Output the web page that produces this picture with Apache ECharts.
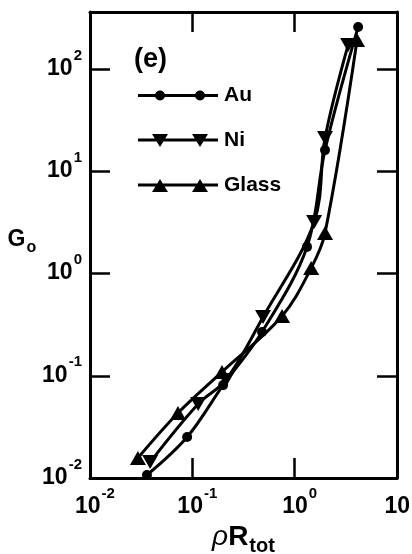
<!DOCTYPE html>
<html>
<head>
<meta charset="utf-8">
<script src="https://cdn.jsdelivr.net/npm/echarts@6/dist/echarts.min.js"></script>
<style>
  html, body { margin: 0; padding: 0; background: #fff; }
  #chart { width: 412px; height: 554px; }
</style>
</head>
<body>
<div id="chart"></div>
<script>
// Normalised conductance G0 against total areal density (rho R_tot), panel (e)
const auX = [0.036, 0.089, 0.20, 0.48, 1.32, 1.98, 4.17];
const auY = [0.0107, 0.0252, 0.081, 0.268, 1.82, 16.1, 258];
const niX = [0.0387, 0.114, 0.213, 0.491, 1.55, 1.98, 3.33];
const niY = [0.0143, 0.053, 0.091, 0.376, 3.19, 21.1, 172];
const glassX = [0.0294, 0.0724, 0.195, 0.753, 1.45, 1.98, 4.07];
const glassY = [0.0157, 0.0432, 0.109, 0.384, 1.13, 2.49, 192];

const seriesNames = ['Au', 'Ni', 'Glass'];
const panelTag = '(e)';
const xRange = [0.01, 10];
const yRange = [0.01, 361];

const FONT = '"Liberation Sans", Arial, sans-serif';

function pairs(xs, ys) { return xs.map((x, i) => [x, ys[i]]); }

function powerLabel(v) {
  const e = Math.round(Math.log10(v));
  return '{b|10}{s|' + e + '}';
}

const richPow = {
  b: { fontSize: 23, fontWeight: 'bold', fontFamily: FONT, color: '#000', lineHeight: 30, verticalAlign: 'bottom' },
  s: { fontSize: 15, fontWeight: 'bold', fontFamily: FONT, color: '#000', lineHeight: 15, padding: [0, 0, 17, 1], verticalAlign: 'bottom' }
};

// legend glyphs: a line with two markers, all sub-paths wound the same way
const iconAu = 'path://M0,6.5H80V9.5H0Z M17,8 A5,5 0 1,1 27,8 A5,5 0 1,1 17,8Z M57,8 A5,5 0 1,1 67,8 A5,5 0 1,1 57,8Z';
const iconNi = 'path://M0,6.5H80V9.5H0Z M14,2L30,2L22,15Z M54,2L70,2L62,15Z';
const iconGlass = 'path://M0,6.5H80V9.5H0Z M22,2L30,15L14,15Z M62,2L70,15L54,15Z';

const frameLine = { show: true, onZero: false, lineStyle: { color: '#000', width: 3 } };
const innerTick = { show: true, inside: true, length: 20, lineStyle: { color: '#000', width: 2.5 } };

const chart = echarts.init(document.getElementById('chart'), null, { renderer: 'canvas' });

const baseLine = { color: '#000', width: 3 };

chart.setOption({
  backgroundColor: '#fff',
  animation: false,
  title: {
    text: panelTag,
    left: 129, top: 41,
    textStyle: { fontSize: 27, fontWeight: 'bold', fontFamily: FONT, color: '#000' }
  },
  legend: {
    orient: 'vertical',
    left: 133, top: 80,
    itemWidth: 80, itemHeight: 16,
    itemGap: 24,
    textStyle: { fontSize: 21, fontWeight: 'bold', fontFamily: FONT, color: '#000', lineHeight: 20, padding: [0, 0, 0, 1] },
    data: [
      { name: seriesNames[0], icon: iconAu },
      { name: seriesNames[1], icon: iconNi },
      { name: seriesNames[2], icon: iconGlass }
    ]
  },
  grid: { left: 90, right: 15, top: 12, bottom: 76, containLabel: false, outerBoundsMode: 'none' },
  xAxis: [
    {
      type: 'log', logBase: 10, min: xRange[0], max: xRange[1], position: 'bottom',
      axisLine: frameLine, axisTick: innerTick, splitLine: { show: false }, minorTick: { show: false },
      axisLabel: { formatter: powerLabel, rich: richPow, margin: 10, padding: [0, 0, 0, 10], showMinLabel: true, showMaxLabel: true },
      name: '{r|ρ}{R|R}{t|tot}',
      nameLocation: 'middle', nameGap: 44,
      nameTextStyle: {
        padding: [0, 0, 0, 0],
        rich: {
          r: { fontSize: 28, fontStyle: 'italic', fontFamily: FONT, color: '#000', lineHeight: 30, verticalAlign: 'top' },
          R: { fontSize: 28, fontWeight: 'bold', fontFamily: FONT, color: '#000', lineHeight: 30, verticalAlign: 'top' },
          t: { fontSize: 20, fontWeight: 'bold', fontFamily: FONT, color: '#000', lineHeight: 20, padding: [14, 0, 0, 1], verticalAlign: 'top' }
        }
      }
    },
    {
      type: 'log', logBase: 10, min: xRange[0], max: xRange[1], position: 'top',
      axisLine: frameLine, axisTick: innerTick, axisLabel: { show: false }, splitLine: { show: false }
    }
  ],
  yAxis: [
    {
      type: 'log', logBase: 10, min: yRange[0], max: yRange[1], position: 'left',
      axisLine: frameLine, axisTick: innerTick, splitLine: { show: false }, minorTick: { show: false },
      axisLabel: { formatter: powerLabel, rich: richPow, margin: 8, padding: [0, 0, 8, 0], showMaxLabel: false, showMinLabel: true },
      name: '{g|G}{o|o}',
      nameLocation: 'middle', nameRotate: 0, nameGap: 52,
      nameTextStyle: {
        align: 'right', verticalAlign: 'middle', padding: [0, 0, 10, 0],
        rich: {
          g: { fontSize: 23, fontWeight: 'bold', fontFamily: FONT, color: '#000', lineHeight: 24, verticalAlign: 'top' },
          o: { fontSize: 16, fontWeight: 'bold', fontFamily: FONT, color: '#000', lineHeight: 16, padding: [12, 0, 0, 1], verticalAlign: 'top' }
        }
      }
    },
    {
      type: 'log', logBase: 10, min: yRange[0], max: yRange[1], position: 'right',
      axisLine: frameLine, axisTick: innerTick, axisLabel: { show: false }, splitLine: { show: false }
    }
  ],
  series: [
    {
      name: seriesNames[0], type: 'line', smooth: 0.35,
      data: pairs(auX, auY),
      symbol: 'circle', symbolSize: 10,
      itemStyle: { color: '#000' }, lineStyle: baseLine
    },
    {
      name: seriesNames[1], type: 'line', smooth: 0.35,
      data: pairs(niX, niY),
      symbol: 'triangle', symbolRotate: 180, symbolSize: [16, 14],
      itemStyle: { color: '#000' }, lineStyle: baseLine
    },
    {
      name: seriesNames[2], type: 'line', smooth: 0.35,
      data: pairs(glassX, glassY),
      symbol: 'triangle', symbolSize: [16, 14],
      itemStyle: { color: '#000' }, lineStyle: baseLine
    }
  ]
});
</script>
</body>
</html>
